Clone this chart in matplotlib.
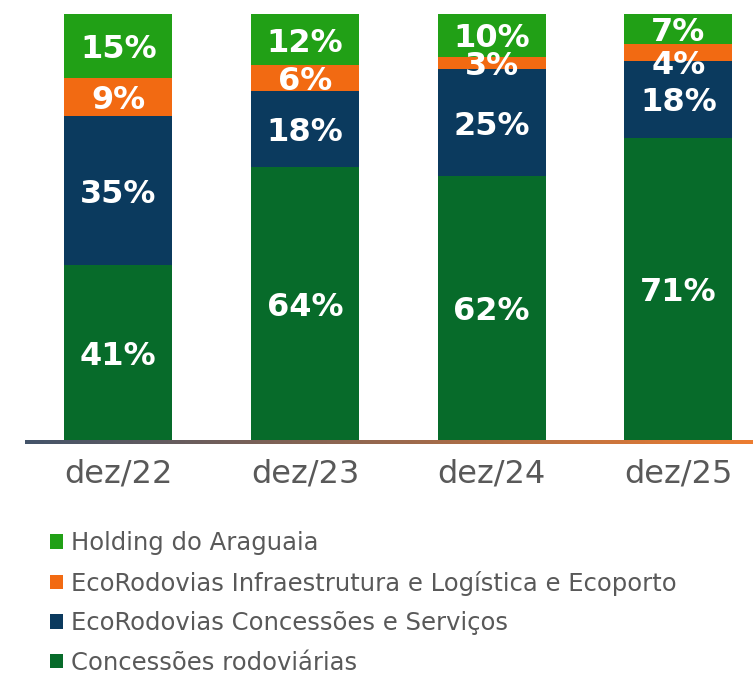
import matplotlib
matplotlib.use("Agg")
from matplotlib import pyplot as plt
from matplotlib.patches import Patch
import numpy as np

plt.rcParams['font.family'] = ['DejaVu Sans']

# data
periods = ['dez/22', 'dez/23', 'dez/24', 'dez/25']
segments = ['Concessões rodoviárias',
            'EcoRodovias Concessões e Serviços',
            'EcoRodovias Infraestrutura e Logística e Ecoporto',
            'Holding do Araguaia']
concessoes_rod = [41, 64, 62, 71]
concessoes_serv = [35, 18, 25, 18]
infra_logistica = [9, 6, 3, 4]
holding = [15, 12, 10, 7]

colors = ['#076B2A', '#0B3A5E', '#F26A12', '#21A016']
series = [concessoes_rod, concessoes_serv, infra_logistica, holding]

W, H = 753, 674
fig = plt.figure(figsize=(W / 100, H / 100), dpi=100)
ax = fig.add_axes([25 / W, 1 - 440 / H, 728 / W, 426 / H])

x = np.arange(len(periods))
bottom = np.zeros(len(periods))
for i, (vals, col) in enumerate(zip(series, colors)):
    vals = np.array(vals, dtype=float)
    ax.bar(x, vals, width=0.58, bottom=bottom, color=col, linewidth=0)
    for j, v in enumerate(vals):
        yc = bottom[j] + v / 2
        # small label nudge where the source chart moved it down
        if i == 2 and j == 3:
            yc -= 2.3
        ax.text(x[j], yc, f'{int(v)}%', ha='center', va='center_baseline',
                color='white', fontsize=23, fontweight='bold')
    bottom += vals

ax.set_xlim(-0.5, 3.4)
ax.set_ylim(0, 100)
ax.set_yticks([])
ax.set_xticks(x)
ax.set_xticklabels(periods, fontsize=23, color='#595959')
ax.tick_params(axis='x', length=0, pad=13)
for s in ax.spines.values():
    s.set_visible(False)

# gradient baseline
lax = fig.add_axes([25 / W, 1 - 444 / H, 728 / W, 4 / H])
c0 = np.array(matplotlib.colors.to_rgb('#44546A'))
c1 = np.array(matplotlib.colors.to_rgb('#ED7D31'))
t = np.linspace(0, 1, 256)[:, None]
grad = (c0 * (1 - t) + c1 * t)[None, :, :]
lax.imshow(grad, aspect='auto', extent=(0, 1, 0, 1))
lax.axis('off')

# legend (top to bottom: holding first)
handles = [Patch(facecolor=c, edgecolor='none') for c in colors[::-1]]
leg = fig.legend(handles, segments[::-1], loc='upper left',
                 bbox_to_anchor=(50 / W, 1 - 531 / H), frameon=False,
                 fontsize=17.5, handlelength=0.55, handleheight=0.55,
                 handletextpad=0.3, labelspacing=0.64, borderpad=0,
                 borderaxespad=0)
for txt in leg.get_texts():
    txt.set_color('#595959')

plt.savefig('out.png', dpi=100)
